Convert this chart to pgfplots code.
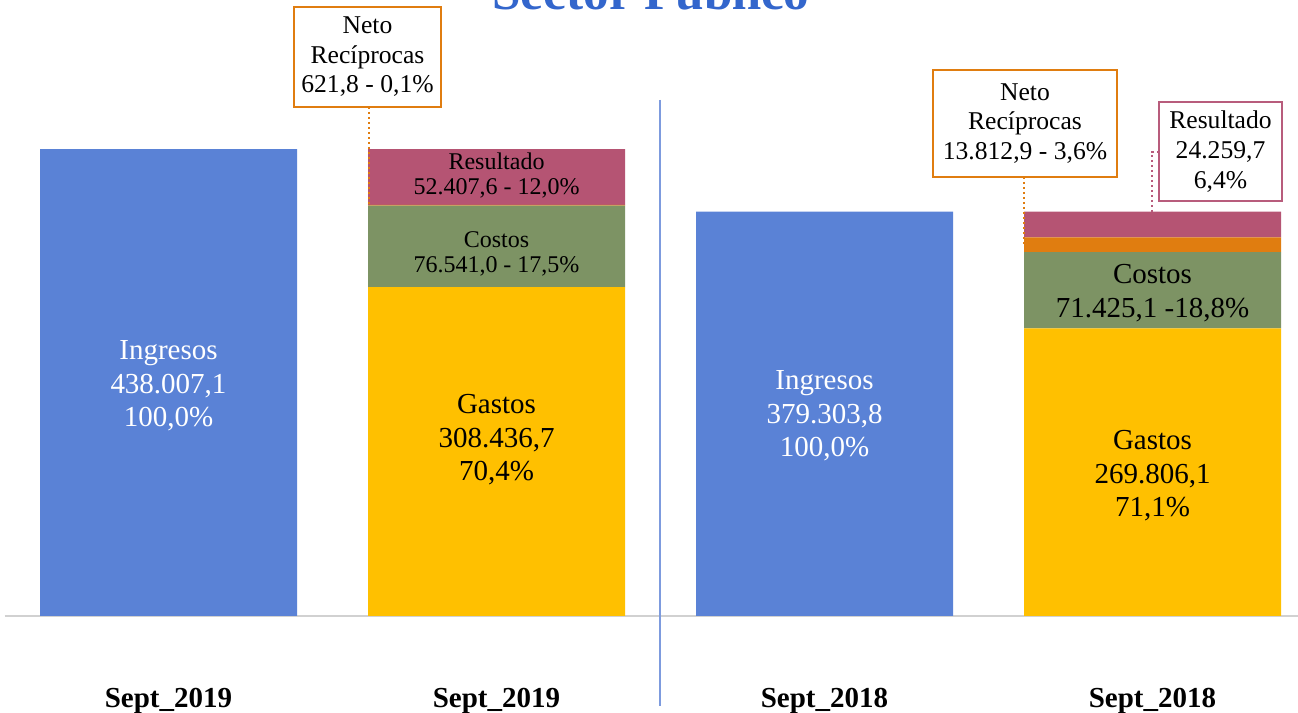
\documentclass[border=0pt]{standalone}
\usepackage{fontspec}
\setmainfont{Liberation Serif}
\usepackage{pgfplots}
\pgfplotsset{compat=1.18}
\definecolor{cBlue}{RGB}{90,130,214}
\definecolor{cYellow}{RGB}{255,192,0}
\definecolor{cGreen}{RGB}{125,147,100}
\definecolor{cPink}{RGB}{181,84,115}
\definecolor{cOrange}{RGB}{224,125,16}
\definecolor{cTitle}{RGB}{51,102,204}
\definecolor{cDiv}{RGB}{125,155,222}
\definecolor{cBoxPink}{RGB}{184,92,124}
\begin{document}
\begin{tikzpicture}
\begin{axis}[
  at={(2.25pt,48.5pt)}, anchor=south west,
  scale only axis, width=646.75pt, height=308pt,
  xmin=-0.5, xmax=3.4436, ymin=0, ymax=577808,
  axis x line=bottom, axis y line=none,
  x axis line style={draw=black!18, line width=0.6pt, -},
  xtick={0,1,2,3},
  xticklabels={Sept\_2019,Sept\_2019,Sept\_2018,Sept\_2018},
  major tick length=0pt,
  xticklabel style={font=\bfseries\fontsize{14.5}{17}\selectfont, anchor=base, yshift=-46pt},
  ybar stacked, bar width=128.5pt,
  clip=false,
]
\addplot[fill=cBlue, draw=none] coordinates {(0,438007.1) (1,0) (2,379303.8) (3,0)};
\addplot[fill=cYellow, draw=none] coordinates {(0,0) (1,308436.7) (2,0) (3,269806.1)};
\addplot[fill=cGreen, draw=none] coordinates {(0,0) (1,76541.0) (2,0) (3,71425.1)};
\addplot[fill=cOrange, draw=none] coordinates {(0,0) (1,621.8) (2,0) (3,13812.9)};
\addplot[fill=cPink, draw=none] coordinates {(0,0) (1,52407.6) (2,0) (3,24259.7)};
\end{axis}

% bar labels
\begin{scope}[every node/.style={align=center, inner sep=0pt}]
\node[text=white, font=\fontsize{14.5}{16.75}\selectfont] at (84.25pt,163.5pt) {Ingresos\\438.007,1\\100,0\%};
\node[font=\fontsize{14.5}{16.75}\selectfont] at (248.25pt,136.5pt) {Gastos\\308.436,7\\70,4\%};
\node[font=\fontsize{12}{12.5}\selectfont] at (248.25pt,229.75pt) {Costos\\76.541,0 - 17,5\%};
\node[font=\fontsize{12}{12.5}\selectfont] at (248.25pt,268.75pt) {Resultado\\52.407,6 - 12,0\%};
\node[text=white, font=\fontsize{14.5}{16.75}\selectfont] at (412.25pt,148.5pt) {Ingresos\\379.303,8\\100,0\%};
\node[font=\fontsize{14.5}{16.75}\selectfont] at (576.25pt,118.5pt) {Gastos\\269.806,1\\71,1\%};
\node[font=\fontsize{14.5}{16.75}\selectfont] at (576.25pt,210pt) {Costos\\71.425,1 -18,8\%};
\end{scope}

% divider
\draw[cDiv, line width=0.8pt] (330pt,306.5pt) -- (330pt,3.5pt);

% callouts
\draw[cOrange, line width=1.1pt, dash pattern=on 1.1pt off 1.4pt] (184.5pt,303pt) -- (184.5pt,254pt);
\node[draw=cOrange, line width=1pt, fill=white, minimum width=73.5pt, minimum height=50pt, inner sep=0pt, align=center, font=\fontsize{12.8}{14.75}\selectfont] at (183.75pt,328pt) {Neto\\Recíprocas\\621,8 - 0,1\%};

\draw[cOrange, line width=1.1pt, dash pattern=on 1.1pt off 1.4pt] (512pt,268pt) -- (512pt,234pt);
\node[draw=cOrange, line width=1pt, fill=white, minimum width=92pt, minimum height=53.5pt, inner sep=0pt, align=center, font=\fontsize{12.8}{14.75}\selectfont] at (512.5pt,294.75pt) {Neto\\Recíprocas\\13.812,9 - 3,6\%};

\draw[cBoxPink, line width=1.1pt, dash pattern=on 1.1pt off 1.4pt] (579.5pt,280.5pt) -- (576pt,280.5pt) -- (576pt,250pt);
\node[draw=cBoxPink, line width=1pt, fill=white, minimum width=61.5pt, minimum height=49.5pt, inner sep=0pt, align=center, font=\fontsize{12.8}{15}\selectfont] at (610.25pt,280.75pt) {Resultado\\24.259,7\\6,4\%};

% title (clipped at the top of the page, as in the reference)
\node[anchor=base, text=cTitle, font=\bfseries\fontsize{25.6}{30}\selectfont, inner sep=0pt] at (325.5pt,351.5pt) {Sector Público};

\pgfresetboundingbox
\useasboundingbox (0,0) rectangle (649pt,356.5pt);
\end{tikzpicture}
\end{document}
